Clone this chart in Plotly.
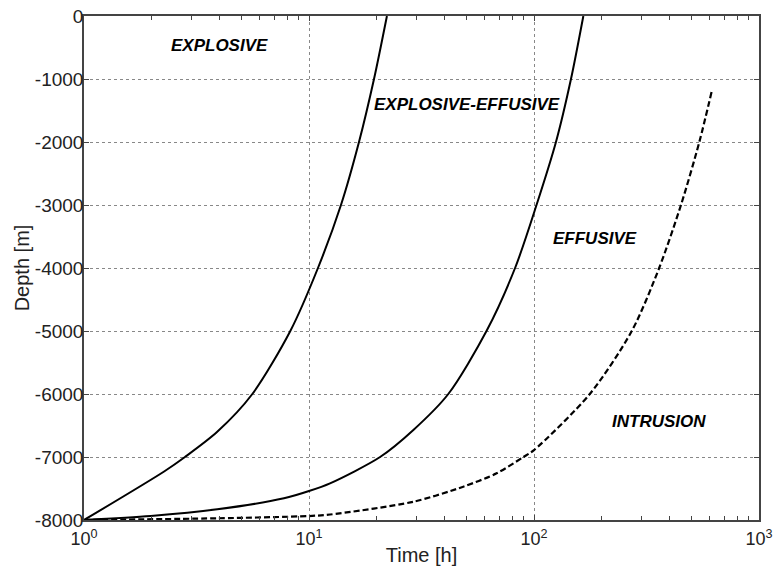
import plotly.graph_objects as go

# ---- data ----
explosive_t = [1, 2.27, 2.81, 3.91, 5.6, 8.26, 10.96, 13.87, 16.68, 19.45, 22.2]
explosive_d = [-8000, -7230, -7000, -6600, -6000, -5000, -4000, -3000, -2000, -1000, 0]

expeff_t = [1, 1.98, 3.91, 7.74, 10, 12.4, 20.7, 29.1, 41.6, 61.5, 82.4, 102.6, 125.2, 146, 165.7]
expeff_d = [-8000, -7937, -7830, -7656, -7540, -7418, -7000, -6571, -6000, -5000, -4000, -3000, -2000, -1000, 0]

intrusion_t = [1, 3.91, 10, 12.4, 29.1, 48.5, 68.2, 89.7, 100, 177, 272, 360, 450, 543, 616]
intrusion_d = [-8000, -7973, -7937, -7913, -7710, -7471, -7259, -7000, -6890, -6000, -5000, -4000, -3000, -2000, -1200]

x_tickvals = [1, 10, 100, 1000]
x_ticktext = ["10<sup>0</sup>", "10<sup>1</sup>", "10<sup>2</sup>", "10<sup>3</sup>"]
y_tickvals = [0, -1000, -2000, -3000, -4000, -5000, -6000, -7000, -8000]
y_ticktext = ["0", "-1000", "-2000", "-3000", "-4000", "-5000", "-6000", "-7000", "-8000"]
minor_vals = [m * 10 ** e for e in range(3) for m in range(2, 10)]

region_labels = ["EXPLOSIVE", "EXPLOSIVE-EFFUSIVE", "EFFUSIVE", "INTRUSION"]
label_logx = [0.604, 1.702, 2.271, 2.556]
label_y = [-476, -1397, -3524, -6444]

FONT = "Liberation Sans, Arial, Helvetica, sans-serif"

fig = go.Figure()
fig.add_trace(go.Scatter(x=explosive_t, y=explosive_d, mode="lines",
                         line=dict(color="black", width=2, shape="spline", smoothing=0.8),
                         showlegend=False))
fig.add_trace(go.Scatter(x=expeff_t, y=expeff_d, mode="lines",
                         line=dict(color="black", width=2, shape="spline", smoothing=0.8),
                         showlegend=False))
fig.add_trace(go.Scatter(x=intrusion_t, y=intrusion_d, mode="lines",
                         line=dict(color="black", width=2.2, dash="6px,3px", shape="spline", smoothing=0.8),
                         showlegend=False))

for txt, lx, ly in zip(region_labels, label_logx, label_y):
    fig.add_annotation(x=lx, y=ly, xref="x", yref="y", text="<b><i>" + txt + "</i></b>",
                       showarrow=False, font=dict(family=FONT, size=17, color="black"))

fig.update_layout(
    width=773, height=569,
    margin=dict(l=84, r=14, t=16, b=49),
    paper_bgcolor="white", plot_bgcolor="white",
    font=dict(family=FONT, size=18, color="#222"),
)
fig.update_xaxes(
    type="log", range=[0, 3], automargin=False,
    tickvals=x_tickvals, ticktext=x_ticktext,
    ticks="inside", ticklen=5, tickcolor="#444",
    showline=True, linecolor="#444", linewidth=1.5, mirror="ticks",
    showgrid=True, gridcolor="#888", griddash="dot", gridwidth=1,
    zeroline=False,
    minor=dict(tickvals=minor_vals, ticks="inside", ticklen=4, tickcolor="#444", showgrid=False),
    title=dict(text="Time [h]", font=dict(size=20, color="#222"), standoff=0),
    tickfont=dict(size=18, color="#222"),
    ticklabelstandoff=2,
)
fig.update_yaxes(
    range=[-8000, 0], automargin=False,
    tickvals=y_tickvals, ticktext=y_ticktext,
    ticks="inside", ticklen=5, tickcolor="#444",
    showline=True, linecolor="#444", linewidth=1.5, mirror="ticks",
    showgrid=True, gridcolor="#888", griddash="dot", gridwidth=1,
    zeroline=False,
    title=dict(text="Depth [m]", font=dict(size=20, color="#222"), standoff=0),
    tickfont=dict(size=19, color="#222"),
    ticklabelstandoff=-5,
)

fig.write_html("out.html")
